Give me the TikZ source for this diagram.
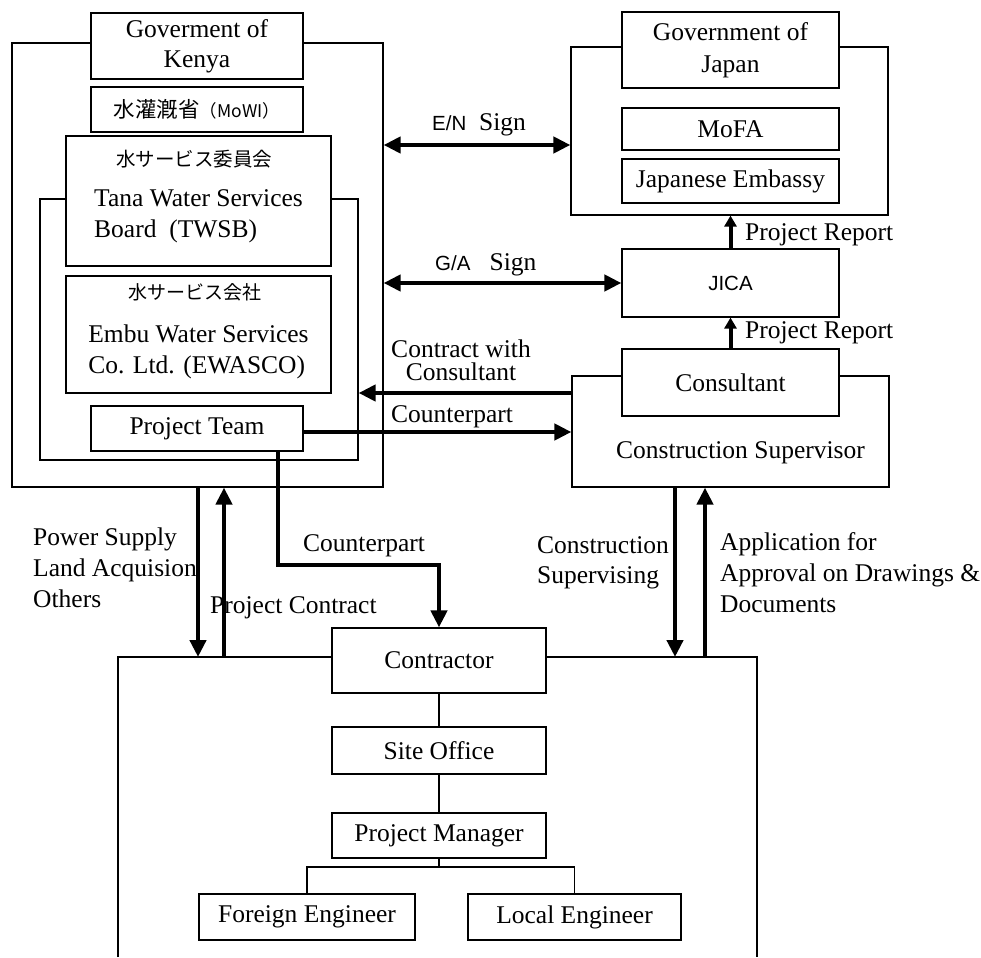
\documentclass[tikz,border=0pt]{standalone}
\usepackage{fontspec}
\setmainfont{Liberation Serif}
\newfontfamily\jpfont{Noto Sans CJK JP}
\newfontfamily\gothic{Liberation Sans}
\usetikzlibrary{arrows.meta}
\tikzset{
  box/.style={draw, fill=white, line width=1.2pt, inner sep=0pt, align=center},
  frame/.style={draw, line width=1.2pt, inner sep=0pt},
  link/.style={line width=1.2pt},
  bigarrow/.style={line width=4.5pt, -{Triangle[length=17pt,width=16pt]}},
  bothways/.style={line width=4.5pt, {Triangle[length=17pt,width=16pt]}-{Triangle[length=17pt,width=16pt]}},
  smallarrow/.style={line width=4pt, -{Triangle[length=11pt,width=12pt]}},
  lbl/.style={inner sep=0pt, anchor=base west},
  mlbl/.style={inner sep=0pt, align=left, anchor=north west},
}
\begin{document}
\begin{tikzpicture}[x=1pt, y=-1pt, font=\fontsize{25.5}{31}\selectfont]
\fill[white] (0,0) rectangle (981,957);
\useasboundingbox (0,0) rectangle (981,957);

% containers
\node[frame, minimum width=371pt, minimum height=444pt] (kenya) at (197.5,265) {};
\node[frame, minimum width=318pt, minimum height=261pt] (inner) at (199,329.5) {};
\node[frame, minimum width=317pt, minimum height=168pt] (japan) at (729.5,131) {};
\node[frame, minimum width=317pt, minimum height=111pt] (csup) at (730.5,431.5) {};
\coordinate (cobl) at (118,957);
\coordinate (cotl) at (118,657);
\coordinate (cotr) at (757,657);
\coordinate (cobr) at (757,957);
\draw[link] (cobl) -- (cotl) -- (cotr) -- (cobr);

% Kenya side
\node[box, minimum width=212pt, minimum height=66pt, font=\fontsize{25.5}{30}\selectfont] (govk) at (197,46) {Goverment of\\Kenya};
\node[box, minimum width=212pt, minimum height=45pt] (mowi) at (197,109.5)
  {\jpfont\fontsize{21.5}{25}\selectfont 水灌漑省{\fontsize{17.5}{20}\selectfont （MoWI）}};
\node[box, minimum width=265pt, minimum height=130pt, align=left] (twsb) at (198.5,201)
  {\hspace*{22pt}{\jpfont\fontsize{19.5}{25}\selectfont 水サービス委員会}\\[9pt]
   Tana Water Services\\Board\ \ (TWSB)\rule[-14pt]{0pt}{14pt}};
\node[box, minimum width=265pt, minimum height=117pt, align=left] (ewasco) at (198.5,334.5)
  {\hspace*{40pt}{\jpfont\fontsize{19}{25}\selectfont 水サービス会社}\\[12pt]
   Embu Water Services\\Co. Ltd. (EWASCO)\rule[-11pt]{0pt}{11pt}};
\node[box, minimum width=212pt, minimum height=45pt] (pteam) at (197,428.5) {Project Team};

% Japan side
\node[box, minimum width=217pt, minimum height=76pt, font=\fontsize{25.5}{32}\selectfont] (govj) at (730.5,50) {Government of\\Japan};
\node[box, minimum width=217pt, minimum height=42pt] (mofa) at (730.5,129) {MoFA};
\node[box, minimum width=217pt, minimum height=44pt] (emb) at (730.5,181) {Japanese Embassy};
\node[box, minimum width=217pt, minimum height=68pt] (jica) at (730.5,283) {\gothic\fontsize{20.5}{24}\selectfont JICA};
\node[box, minimum width=217pt, minimum height=67pt] (consultant) at (730.5,382.5) {Consultant};
\node[lbl] (csuptext) at (616,458) {Construction Supervisor};

% Contractor side
\node[box, minimum width=214pt, minimum height=65pt] (contractor) at (439,660.5) {Contractor};
\node[box, minimum width=214pt, minimum height=47pt] (site) at (439,750.5) {Site Office};
\node[box, minimum width=214pt, minimum height=45pt] (pm) at (439,835.5) {Project Manager};
\node[box, minimum width=216pt, minimum height=46pt] (foreign) at (307,917) {Foreign Engineer};
\node[box, minimum width=213pt, minimum height=46pt] (local) at (574.5,917) {Local Engineer};

% tree connectors
\coordinate (junc) at (439,867);
\draw[link] (contractor) -- (site);
\draw[link] (site) -- (pm);
\draw[link] (pm.south) -- (junc);
\draw[link] (foreign.north) |- (junc) -| (local.north);

% labels
\node[lbl] (lblen) at (432,131) {{\gothic\fontsize{20.5}{24}\selectfont E/N}\ \ Sign};
\node[lbl] (lblga) at (435,270) {{\gothic\fontsize{20.5}{24}\selectfont G/A}\ \ \ Sign};
\node[lbl] (lblpr1) at (745,241) {Project Report};
\node[lbl] (lblpr2) at (745,338) {Project Report};
\node[inner sep=0pt, align=center, anchor=north, font=\fontsize{25.5}{23}\selectfont] (lblcc) at (461,340) {Contract with\\Consultant};
\node[lbl] (lblcp1) at (391,422) {Counterpart};
\node[lbl] (lblcp2) at (303,551) {Counterpart};
\node[mlbl] (lblpower) at (33,528) {Power Supply\\Land Acquision\\Others};
\node[lbl] (lblpc) at (210,613) {Project Contract};
\node[mlbl, font=\fontsize{25.5}{30}\selectfont] (lblcs) at (537,536) {Construction\\Supervising};
\node[mlbl] (lblapp) at (720,532) {Application for\\Approval on Drawings \&\\Documents};

% helper coordinates for connectors
\coordinate (yen) at (0,145);
\coordinate (yga) at (0,283);
\coordinate (ycc) at (0,393);
\coordinate (ycp) at (0,432);
\coordinate (turn) at (278,565);
\coordinate (xpa) at (198,0);
\coordinate (xpb) at (224,0);
\coordinate (xca) at (675,0);
\coordinate (xcb) at (705,0);

% arrows
\draw[bothways] (kenya.east |- yen) -- (japan.west |- yen);
\draw[bothways] (kenya.east |- yga) -- (jica.west |- yga);
\draw[smallarrow] (jica.north) -- (jica.north |- japan.south);
\draw[smallarrow] (consultant.north) -- (consultant.north |- jica.south);
\draw[bigarrow] (csup.west |- ycc) -- (inner.east |- ycc);
\draw[bigarrow] (pteam.east |- ycp) -- (csup.west |- ycp);
\draw[bigarrow] (pteam.south -| turn) -- (turn) -| (contractor.north);
\draw[bigarrow] (kenya.south -| xpa) -- (xpa |- cotl);
\draw[bigarrow] (xpb |- cotl) -- (kenya.south -| xpb);
\draw[bigarrow] (csup.south -| xca) -- (xca |- cotl);
\draw[bigarrow] (xcb |- cotl) -- (csup.south -| xcb);
\end{tikzpicture}
\end{document}
